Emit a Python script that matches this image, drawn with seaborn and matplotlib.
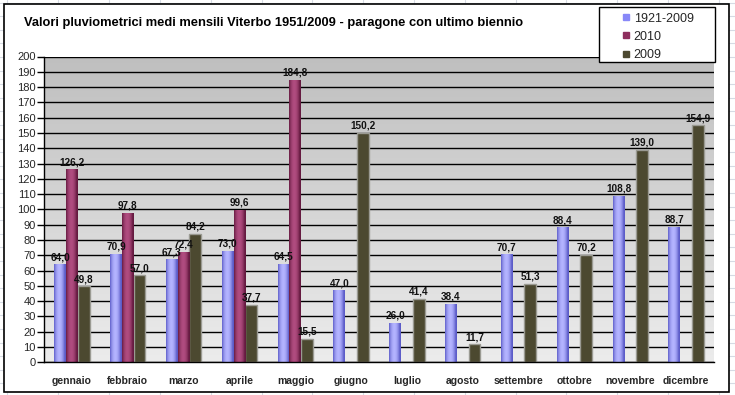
import numpy as np
import pandas as pd
import matplotlib
matplotlib.use("Agg")
import matplotlib.pyplot as plt
import seaborn as sns
from matplotlib.patches import Rectangle
from matplotlib.lines import Line2D
from matplotlib.colors import to_rgb, LinearSegmentedColormap

# ---- data ----
mesi = ["gennaio", "febbraio", "marzo", "aprile", "maggio", "giugno",
        "luglio", "agosto", "settembre", "ottobre", "novembre", "dicembre"]
serie = ["1921-2009", "2010", "2009"]
media_1921_2009 = [64.0, 70.9, 67.3, 73.0, 64.5, 47.0, 26.0, 38.4, 70.7, 88.4, 108.8, 88.7]
anno_2010 = [126.2, 97.8, 72.4, 99.6, 184.8, None, None, None, None, None, None, None]
anno_2009 = [49.8, 57.0, 84.2, 37.7, 15.5, 150.2, 41.4, 11.7, 51.3, 70.2, 139.0, 154.9]
yticks = list(range(0, 201, 10))
titolo = "Valori pluviometrici medi mensili Viterbo 1951/2009 - paragone con ultimo biennio"

colori = {"1921-2009": "#8888f8", "2010": "#8e2f5e", "2009": "#4c4930"}
ombre = {"1921-2009": ("#5c5cc8", "#b4b4ff"),
         "2010": ("#651a40", "#b04c80"),
         "2009": ("#4c4930", "#4c4930")}

df = pd.DataFrame({
    "mese": mesi * 3,
    "serie": np.repeat(serie, len(mesi)),
    "valore": media_1921_2009 + anno_2010 + anno_2009,
}).dropna()

sns.set_theme(style="white")
plt.rcParams["font.family"] = ["Liberation Sans", "DejaVu Sans"]

W, H = 735, 395
fig = plt.figure(figsize=(W / 100, H / 100), dpi=100)
fig.patch.set_facecolor("white")

# faint spreadsheet grid in the margins
for xg in np.arange(7.5, W, 50.8):
    fig.add_artist(Line2D([xg / W, xg / W], [0, 1], color="#d6dbe4", lw=0.8, zorder=-3))
for yg in np.arange(2.5, H, 13.6):
    fig.add_artist(Line2D([0, 1], [1 - yg / H, 1 - yg / H], color="#d6dbe4", lw=0.8, zorder=-3))
# chart area
fig.add_artist(Rectangle((4 / W, 1 - 392 / H), 725 / W, 388 / H, transform=fig.transFigure,
                         facecolor="white", edgecolor="black", lw=1.2, zorder=-2))

ax = fig.add_axes([44 / W, 1 - 362.3 / H, 670 / W, 305.8 / H])
ax.set_zorder(1)
ax.set_facecolor("none")

sns.barplot(data=df, x="mese", y="valore", hue="serie", order=mesi, hue_order=serie,
            palette=colori, width=0.63, errorbar=None, saturation=1, ax=ax, zorder=2)

# background gradient
cmap_bg = LinearSegmentedColormap.from_list("bg", ["#bfbfbf", "#ececec"])
ax.imshow(np.linspace(0, 1, 256).reshape(-1, 1), cmap=cmap_bg, aspect="auto",
          extent=(0, 1, 0, 1), transform=ax.transAxes, zorder=0, origin="upper")

# bar shading and labels
t = np.linspace(0, 1, 64)
prof = np.clip(np.sin(np.pi * np.clip(t / 0.9, 0, 1)), 0, 1) ** 0.8
for cont, s in zip(ax.containers, serie):
    d, l = np.array(to_rgb(ombre[s][0])), np.array(to_rgb(ombre[s][1]))
    img = (d[None, :] + (l - d)[None, :] * prof[:, None])[None, :, :]
    for bar in cont:
        if s == "2009":
            bar.set_edgecolor("#9a9a92")
            bar.set_linewidth(1.0)
        else:
            bar.set_edgecolor("none")
            x0, w, h = bar.get_x(), bar.get_width(), bar.get_height()
            im = ax.imshow(img, extent=(x0, x0 + w, 0, h), aspect="auto",
                           interpolation="bilinear", zorder=2.1)
            im.set_clip_path(bar)
    labs = [f"{b.get_height():.1f}".replace(".", ",") for b in cont]
    ax.bar_label(cont, labels=labs, padding=1.5, fontsize=7.2, fontweight="bold",
                 color="#111111", zorder=4)

ax.set_xlim(-0.5, len(mesi) - 0.5)
ax.set_ylim(0, 200)
ax.set_yticks(yticks)
ax.set_axisbelow(True)
ax.yaxis.grid(True, color="black", lw=1.0, zorder=1)
ax.xaxis.grid(False)
ax.set_xlabel("")
ax.set_ylabel("")
for sp in ["top", "right"]:
    ax.spines[sp].set_visible(False)
for sp in ["left", "bottom"]:
    ax.spines[sp].set_color("black")
    ax.spines[sp].set_linewidth(1.0)
    ax.spines[sp].set_zorder(5)

ax.set_xticks(np.arange(-0.5, len(mesi), 1), minor=True)
ax.tick_params(axis="x", which="major", length=0, pad=10, labelsize=7.5)
ax.tick_params(axis="x", which="minor", length=4, width=1, color="black", direction="out")
for lab in ax.get_xticklabels():
    lab.set_fontweight("bold")
ax.tick_params(axis="y", length=5, width=1, color="black", direction="out", pad=1,
               labelsize=8, left=True)

ax.legend_.remove()
# legend frame + entries
fig.add_artist(Rectangle((599 / W, 1 - 62 / H), 116 / W, 55 / H, transform=fig.transFigure,
                         facecolor="white", edgecolor="black", lw=1.0, zorder=5))
handles = [Line2D([], [], marker="s", ls="", markersize=4.5, color=colori[s],
                  markeredgecolor=colori[s]) for s in serie]
leg = fig.legend(handles, serie, loc="upper left", bbox_to_anchor=(620 / W, 1 - 10 / H),
                 fontsize=9, frameon=False,
                 handlelength=0.6, handletextpad=0.3, labelspacing=0.5, borderpad=0.2,
                 borderaxespad=0)
leg.set_zorder(6)

fig.text(24 / W, 1 - 23 / H, titolo, ha="left", va="center", fontsize=9.3,
         fontweight="bold", color="black")

fig.savefig("out.png", dpi=100)
